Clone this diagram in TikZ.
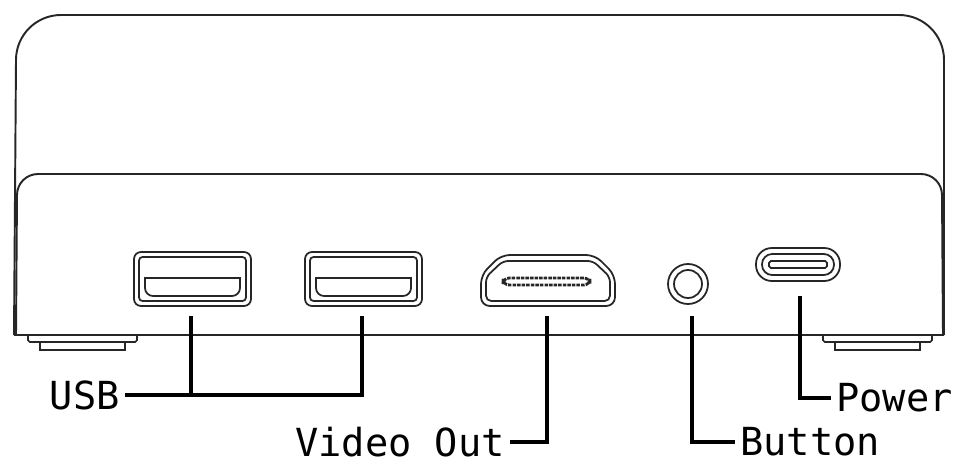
\documentclass[tikz,border=0pt]{standalone}
\usepackage{fontspec}
\setmonofont{DejaVu Sans Mono}
\usetikzlibrary{positioning,calc}
\tikzset{
    bodysty/.style={draw=black!85,line width=1.1pt},
    portsty/.style={draw=black!85,line width=1pt,rounded corners=4pt},
    leadsty/.style={draw=black,line width=2.4pt},
    labsty/.style={font=\ttfamily\fontsize{22}{26}\selectfont,inner sep=0pt},
}
\begin{document}
\begin{tikzpicture}[x=0.02cm,y=-0.02cm]
\useasboundingbox (0,0) rectangle (960,470);

% case
\draw [bodysty] (14,335) -- (16,60) arc[start angle=180,end angle=270,radius=45] -- (899,15)
    arc[start angle=270,end angle=360,radius=45] -- (944,335);
\draw [bodysty,fill=white] (16,335) -- (17,195) arc[start angle=180,end angle=270,radius=21] -- (921,174)
    arc[start angle=270,end angle=360,radius=21] -- (943,335);
\draw [bodysty] (14,335) -- (944,335);
% feet
\foreach \fx in {28,823} {
    \draw [bodysty,line width=0.9pt,rounded corners=1pt] (\fx,336) -- (\fx,342) -- (\fx+109,342) -- (\fx+109,336);
    \draw [bodysty,line width=0.9pt] (\fx+12,342) -- (\fx+12,350) -- (\fx+97,350) -- (\fx+97,342);
}

% usb ports
\foreach \ux/\nm in {134/usba,305/usbb} {
    \draw [portsty] (\ux,252) rectangle (\ux+117,306);
    \draw [portsty,rounded corners=2pt] (\ux+5,257) rectangle (\ux+112,301);
    \draw [portsty,rounded corners=0pt] (\ux+11,278) -- (\ux+106,278) -- (\ux+106,288)
        arc[start angle=0,end angle=90,radius=8] -- (\ux+19,296)
        arc[start angle=90,end angle=180,radius=8] -- cycle;
    \coordinate (\nm) at (\ux+57,316);
}
% video out
\draw [portsty,rounded corners=5pt] (481,306) -- (481,275) -- (501,255) -- (595,255) -- (615,275) -- (615,306) -- cycle;
\draw [portsty,rounded corners=3pt] (486,301) -- (486,277) -- (503,261) -- (593,261) -- (610,277) -- (610,301) -- cycle;
\draw [portsty,rounded corners=3.5pt,line width=1.6pt,dash pattern=on 2pt off 0.6pt] (503,278) rectangle (590,285);
\coordinate (hdmi) at (547,316);
% button
\node (btn) [circle,draw=black!85,line width=1pt,minimum size=40*0.02cm,inner sep=0pt] at (688,284) {};
\draw [draw=black!85,line width=1pt] (btn.center) circle[radius=14];
\coordinate (btnl) at (692,316);
% usb-c
\draw [portsty,rounded corners=9pt] (756,248) rectangle (840,281);
\draw [portsty,rounded corners=5.8pt] (762,254) rectangle (834,275);
\draw [portsty,rounded corners=1pt] (769,261) rectangle (827,268);
\coordinate (usbc) at (800,296);

% labels
\node (usbl) [labsty,anchor=east] at (120,395) {USB};
\node (vidl) [labsty,anchor=east] at (505,442) {Video Out};
\node (btnt) [labsty,anchor=west] at (740,442) {Button};
\node (pwrl) [labsty,anchor=west] at (836,398) {Power};

% leaders
\draw [leadsty] ($(usbl.east)+(5,0)$) -- (usbb |- usbl.east) -- (usbb);
\draw [leadsty] (usba) -- (usba |- usbl.east);
\draw [leadsty] (hdmi) -- (hdmi |- vidl.east) -- ($(vidl.east)+(5,0)$);
\draw [leadsty] (btnl) -- (btnl |- btnt.west) -- ($(btnt.west)+(-5,0)$);
\draw [leadsty] (usbc) -- (usbc |- pwrl.west) -- ($(pwrl.west)+(-5,0)$);
\end{tikzpicture}
\end{document}
